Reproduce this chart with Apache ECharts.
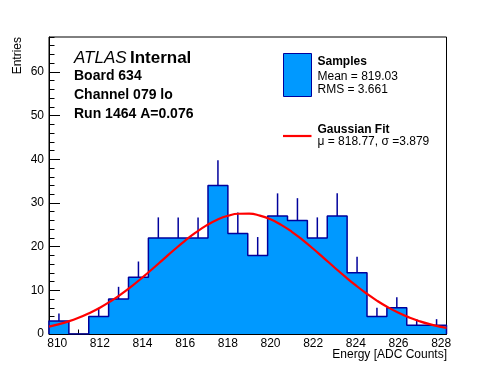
<!DOCTYPE html>
<html>
<head>
<meta charset="utf-8">
<script src="https://cdn.jsdelivr.net/npm/echarts@6/dist/echarts.min.js"></script>
<style>html,body{margin:0;padding:0;background:#fff}#c{width:496px;height:372px}</style>
</head>
<body>
<div id="c"></div>
<script>
// ---- data ----
const binEdges = [809.615, 810.547, 811.479, 812.410, 813.342, 814.274, 815.206, 816.137, 817.069, 818.001, 818.933,
                  819.864, 820.796, 821.728, 822.660, 823.591, 824.523, 825.455, 826.387, 827.318, 828.250];
const binCounts = [3, 0, 4, 8, 13, 22, 22, 22, 34, 23, 18, 27, 26, 22, 27, 14, 4, 6, 2, 2];
const binErrors = [1.7, 0, 2.0, 2.8, 3.6, 4.7, 4.7, 4.7, 5.8, 4.8, 4.2, 5.2, 5.1, 4.7, 5.2, 3.7, 2.0, 2.4, 1.4, 1.4];
const fitX = [809.62, 810, 810.5, 811, 811.5, 812, 812.5, 813, 813.5, 814, 814.5, 815, 815.5, 816, 816.5, 817, 817.5,
              818, 818.5, 819, 819.5, 820, 820.5, 821, 821.5, 822, 822.5, 823, 823.5, 824, 824.5, 825, 825.5, 826,
              826.5, 827, 827.5, 828, 828.25];
const fitY = [1.69, 2.14, 2.84, 3.71, 4.77, 6.02, 7.48, 9.13, 10.97, 12.96, 15.06, 17.21, 19.35, 21.39, 23.26, 24.87,
              26.16, 27.06, 27.53, 27.55, 27.11, 26.25, 24.99, 23.40, 21.54, 19.51, 17.38, 15.23, 13.12, 11.12, 9.27,
              7.60, 6.13, 4.86, 3.79, 2.91, 2.19, 1.63, 1.39];
const xMajorTicks = [810, 812, 814, 816, 818, 820, 822, 824, 826, 828];
const xMinorTicks = [810, 810.5, 811, 811.5, 812, 812.5, 813, 813.5, 814, 814.5, 815, 815.5, 816, 816.5, 817, 817.5,
                     818, 818.5, 819, 819.5, 820, 820.5, 821, 821.5, 822, 822.5, 823, 823.5, 824, 824.5, 825, 825.5,
                     826, 826.5, 827, 827.5, 828];
const yMajorTicks = [0, 10, 20, 30, 40, 50, 60];
const yMinorTicks = [0, 2, 4, 6, 8, 10, 12, 14, 16, 18, 20, 22, 24, 26, 28, 30, 32, 34, 36, 38, 40, 42, 44, 46, 48,
                     50, 52, 54, 56, 58, 60, 62, 64, 66, 68];
const xRange = [809.615, 828.25];
const yRange = [0, 68];
const textLines = ['Board 634', 'Channel 079 lo', 'Run 1464 A=0.076'];
const legendTexts = ['Samples', 'Mean = 819.03', 'RMS = 3.661', 'Gaussian Fit', 'μ = 818.77, σ =3.879'];

// ---- build ----
const FILL = '#0099ff', EDGE = '#00009c', FONT = '"Liberation Sans", Arial, sans-serif';
const stepData = [[binEdges[0], 0]];
for (let i = 0; i < binCounts.length; i++) stepData.push([binEdges[i], binCounts[i]]);
stepData.push([binEdges[binEdges.length - 1], binCounts[binCounts.length - 1]]);
stepData.push([binEdges[binEdges.length - 1], 0]);
const errData = binCounts.map((v, i) => [(binEdges[i] + binEdges[i + 1]) / 2, v, binErrors[i]]);
const fitData = fitX.map((x, i) => [x, fitY[i]]);

const chart = echarts.init(document.getElementById('c'), null, {renderer: 'canvas'});
const axisText = {color: '#000', fontSize: 12, fontFamily: FONT};
chart.setOption({
  animation: false,
  grid: {left: 49, right: 49.5, top: 37, bottom: 38, show: true, borderColor: '#000', borderWidth: 1, backgroundColor: 'transparent'},
  xAxis: [
    {type: 'value', min: xRange[0], max: xRange[1], position: 'bottom',
     axisLine: {show: true, onZero: false, lineStyle: {color: '#000', width: 1}},
     axisTick: {show: true, inside: true, length: 9, customValues: xMajorTicks, lineStyle: {color: '#000'}},
     axisLabel: {show: true, customValues: xMajorTicks, margin: 4, ...axisText},
     splitLine: {show: false}},
    {type: 'value', min: xRange[0], max: xRange[1], position: 'bottom',
     axisLine: {show: false, onZero: false},
     axisTick: {show: true, inside: true, length: 4.5, customValues: xMinorTicks, lineStyle: {color: '#000'}},
     axisLabel: {show: false}, splitLine: {show: false}}
  ],
  yAxis: [
    {type: 'value', min: yRange[0], max: yRange[1], position: 'left',
     axisLine: {show: true, onZero: false, lineStyle: {color: '#000', width: 1}},
     axisTick: {show: true, inside: true, length: 11, customValues: yMajorTicks, lineStyle: {color: '#000'}},
     axisLabel: {show: true, customValues: yMajorTicks, margin: 5, ...axisText},
     splitLine: {show: false}},
    {type: 'value', min: yRange[0], max: yRange[1], position: 'left',
     axisLine: {show: false, onZero: false},
     axisTick: {show: true, inside: true, length: 5.5, customValues: yMinorTicks, lineStyle: {color: '#000'}},
     axisLabel: {show: false}, splitLine: {show: false}}
  ],
  series: [
    {type: 'line', data: stepData, step: 'end', symbol: 'none', xAxisIndex: 0, yAxisIndex: 0,
     lineStyle: {color: EDGE, width: 1.5}, areaStyle: {color: FILL, opacity: 1, origin: 'start'}, z: 2},
    {type: 'custom', data: errData, xAxisIndex: 0, yAxisIndex: 0, z: 3,
     renderItem: function (params, api) {
       const v = api.value(1), e = api.value(2);
       if (!e) return null;
       const p0 = api.coord([api.value(0), v]);
       const p1 = api.coord([api.value(0), v + e]);
       return {type: 'line', shape: {x1: p0[0], y1: p0[1], x2: p1[0], y2: p1[1]},
               style: {stroke: EDGE, lineWidth: 1.5}};
     }},
    {type: 'line', data: fitData, smooth: true, symbol: 'none', xAxisIndex: 0, yAxisIndex: 0,
     lineStyle: {color: '#ff0000', width: 2.2}, z: 4}
  ],
  graphic: [
    {type: 'text', x: 24, y: 37, rotation: Math.PI / 2,
     style: {text: 'Entries', fill: '#000', font: '12px ' + FONT, textAlign: 'right', textVerticalAlign: 'bottom'}},
    {type: 'text', x: 447, y: 355,
     style: {text: 'Energy [ADC Counts]', fill: '#000', font: '12px ' + FONT, textAlign: 'right', textVerticalAlign: 'middle'}},
    {type: 'text', x: 74, y: 58,
     style: {text: '{a|ATLAS} {b|Internal}', textVerticalAlign: 'middle',
             rich: {a: {font: 'italic 17px ' + FONT, fill: '#000'}, b: {font: 'bold 17px ' + FONT, fill: '#000'}}}},
    {type: 'text', x: 74, y: 76.5, style: {text: textLines[0], fill: '#000', font: 'bold 14px ' + FONT, textVerticalAlign: 'middle'}},
    {type: 'text', x: 74, y: 95.5, style: {text: textLines[1], fill: '#000', font: 'bold 14px ' + FONT, textVerticalAlign: 'middle'}},
    {type: 'text', x: 74, y: 114, style: {text: textLines[2], fill: '#000', font: 'bold 14px ' + FONT, textVerticalAlign: 'middle'}},
    {type: 'rect', shape: {x: 283.5, y: 53.5, width: 28, height: 43}, style: {fill: FILL, stroke: EDGE, lineWidth: 1}},
    {type: 'text', x: 317.5, y: 61.5, style: {text: legendTexts[0], fill: '#000', font: 'bold 12px ' + FONT, textVerticalAlign: 'middle'}},
    {type: 'text', x: 317.5, y: 77, style: {text: legendTexts[1], fill: '#000', font: '12px ' + FONT, textVerticalAlign: 'middle'}},
    {type: 'text', x: 317.5, y: 90, style: {text: legendTexts[2], fill: '#000', font: '12px ' + FONT, textVerticalAlign: 'middle'}},
    {type: 'line', shape: {x1: 283, y1: 136, x2: 311.5, y2: 136}, style: {stroke: '#ff0000', lineWidth: 2.2}},
    {type: 'text', x: 317.5, y: 130, style: {text: legendTexts[3], fill: '#000', font: 'bold 12px ' + FONT, textVerticalAlign: 'middle'}},
    {type: 'text', x: 317.5, y: 142, style: {text: legendTexts[4], fill: '#000', font: '12px ' + FONT, textVerticalAlign: 'middle'}}
  ]
});
</script>
</body>
</html>
